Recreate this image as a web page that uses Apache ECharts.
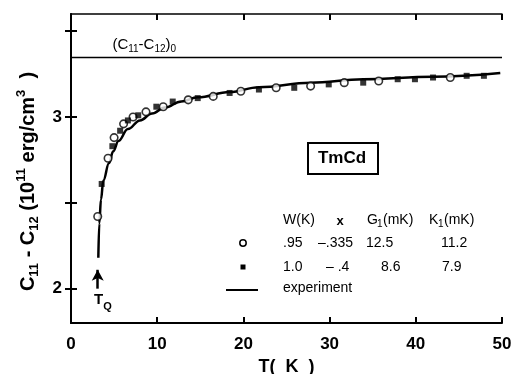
<!DOCTYPE html>
<html>
<head>
<meta charset="utf-8">
<script src="https://cdn.jsdelivr.net/npm/echarts@6/dist/echarts.min.js"></script>
<style>
html,body{margin:0;padding:0;background:#fff;}
#chart{width:515px;height:374px;}
</style>
</head>
<body>
<div id="chart"></div>
<script>
// W = .95 (open circles)
var tempW095 = [3.1, 4.3, 5.0, 6.1, 7.2, 8.7, 10.7, 13.6, 16.5, 19.7, 23.8, 27.8, 31.7, 35.7, 44.0];
var valW095  = [2.42, 2.76, 2.88, 2.96, 3.00, 3.03, 3.06, 3.10, 3.12, 3.15, 3.17, 3.18, 3.20, 3.21, 3.23];
// W = 1.0 (filled squares)
var tempW10 = [3.56, 4.8, 5.7, 6.6, 7.8, 9.9, 11.8, 14.7, 18.4, 21.8, 25.9, 29.9, 33.9, 37.9, 39.9, 42.0, 45.9, 47.9];
var valW10  = [2.61, 2.83, 2.92, 2.98, 3.01, 3.06, 3.09, 3.11, 3.14, 3.16, 3.17, 3.19, 3.20, 3.22, 3.22, 3.23, 3.24, 3.24];
// experiment curve
var tempExp = [3.17, 3.28, 3.48, 3.75, 4.4, 4.9, 5.5, 6.6, 8.0, 9.4, 10.9, 12.8, 14.7, 18.4, 21.8, 27.8, 33.9, 42.0, 49.8];
var valExp  = [2.18, 2.38, 2.52, 2.63, 2.73, 2.80, 2.86, 2.93, 2.98, 3.02, 3.055, 3.09, 3.115, 3.145, 3.174, 3.20, 3.22, 3.234, 3.256];

var c0 = 3.35;     // (C11-C12)0
var tQ = 3.1;      // T_Q arrow position
var yTicks = [2, 2.5, 3, 3.5];
var yLabels = [2, 3];

function pairs(xs, ys) {
    var out = [];
    for (var i = 0; i < xs.length; i++) out.push([xs[i], ys[i]]);
    return out;
}

var chart = echarts.init(document.getElementById('chart'));

var axisLine = {lineStyle: {color: '#000', width: 2}};
var tick = {inside: true, length: 6, lineStyle: {color: '#000', width: 2}};
var labelFont = {color: '#000', fontFamily: 'Liberation Sans', fontWeight: 'bold', fontSize: 17};
var tableFont = 'Liberation Sans';

var option = {
    backgroundColor: '#fff',
    animation: false,
    grid: {left: 71, right: 13, top: 14, bottom: 51, outerBoundsMode: 'none'},
    xAxis: [
        {
            type: 'value', position: 'bottom', min: 0, max: 50, interval: 10,
            axisLine: axisLine, axisTick: tick, splitLine: {show: false},
            axisLabel: Object.assign({margin: 13}, labelFont),
            name: 'T(  K  )', nameLocation: 'middle', nameGap: 35,
            nameTextStyle: {color: '#000', fontFamily: 'Liberation Sans', fontWeight: 'bold', fontSize: 18}
        },
        {
            type: 'value', position: 'top', min: 0, max: 50, interval: 10,
            axisLine: {lineStyle: {color: '#000', width: 1.5}}, axisTick: tick,
            axisLabel: {show: false}, splitLine: {show: false}
        }
    ],
    yAxis: [
        {
            type: 'value', position: 'left', min: 1.8, max: 3.6,
            axisLine: axisLine,
            axisTick: Object.assign({customValues: yTicks}, tick),
            axisLabel: Object.assign({customValues: yLabels, margin: 9}, labelFont),
            splitLine: {show: false},
            name: '{a|C}{s|11}{a| - C}{s|12}{a| (10}{u|11}{a| erg/cm}{u|3}{a|  )}',
            nameLocation: 'middle', nameGap: 30, nameRotate: 90,
            nameTextStyle: {
                padding: [0, 0, 0, -26],
                rich: {
                    a: {fontFamily: 'Liberation Sans', fontWeight: 'bold', fontSize: 20, lineHeight: 26, color: '#000'},
                    s: {fontFamily: 'Liberation Sans', fontWeight: 'bold', fontSize: 13, lineHeight: 13, verticalAlign: 'bottom', color: '#000'},
                    u: {fontFamily: 'Liberation Sans', fontWeight: 'bold', fontSize: 13, lineHeight: 13, verticalAlign: 'top', color: '#000'}
                }
            }
        },
        {
            type: 'value', position: 'right', min: 1.8, max: 3.6,
            axisLine: {lineStyle: {color: '#000', width: 1.5}},
            axisTick: Object.assign({customValues: yTicks}, tick),
            axisLabel: {show: false}, splitLine: {show: false}
        }
    ],
    series: [
        {
            name: 'experiment',
            type: 'line',
            data: pairs(tempExp, valExp),
            smooth: 0.4,
            smoothMonotone: 'x',
            showSymbol: false,
            lineStyle: {color: '#000', width: 2.5},
            z: 2,
            markLine: {
                silent: true,
                symbol: ['none', 'none'],
                data: [
                    [
                        {coord: [0, c0], lineStyle: {width: 1.3, color: '#000', type: 'solid'}},
                        {coord: [50, c0]}
                    ],
                    [
                        {coord: [tQ, 2.0], symbol: 'none', lineStyle: {width: 2.5, color: '#000', type: 'solid'}},
                        {coord: [tQ, 2.11], symbol: 'arrow', symbolSize: [9, 11]}
                    ]
                ],
                label: {show: false}
            },
            markPoint: {
                silent: true,
                symbol: 'circle', symbolSize: 0,
                data: [
                    {
                        coord: [tQ + 0.6, 1.935],
                        label: {
                            show: true, position: 'inside',
                            formatter: '{a|T}{s|Q}',
                            rich: {
                                a: {fontFamily: 'Liberation Sans', fontWeight: 'bold', fontSize: 15, lineHeight: 18, color: '#000'},
                                s: {fontFamily: 'Liberation Sans', fontWeight: 'bold', fontSize: 11, lineHeight: 11, verticalAlign: 'bottom', color: '#000', padding: [0, 0, -4, 0]}
                            }
                        }
                    },
                    {
                        coord: [8.5, 3.42],
                        label: {
                            show: true, position: 'inside',
                            formatter: '{a|(C}{s|11}{a|-C}{s|12}{a|)}{s|0}',
                            rich: {
                                a: {fontFamily: 'Liberation Sans', fontSize: 15, lineHeight: 18, color: '#000'},
                                s: {fontFamily: 'Liberation Sans', fontSize: 10, lineHeight: 10, verticalAlign: 'bottom', color: '#000'}
                            }
                        }
                    }
                ]
            }
        },
        {
            name: 'W .95',
            type: 'scatter',
            data: pairs(tempW095, valW095),
            symbol: 'circle',
            symbolSize: 7.5,
            itemStyle: {color: '#fff', borderColor: '#000', borderWidth: 1.6},
            z: 3
        },
        {
            name: 'W 1.0',
            type: 'scatter',
            data: pairs(tempW10, valW10),
            symbol: 'rect',
            symbolSize: 6,
            itemStyle: {color: '#000'},
            z: 3
        }
    ],
    graphic: [
        // TmCd box
        {type: 'rect', left: 307, top: 142, shape: {width: 70, height: 31},
         style: {fill: '#fff', stroke: '#000', lineWidth: 2}},
        {type: 'text', x: 342, y: 158,
         style: {text: 'TmCd', fill: '#000', font: 'bold 17px "Liberation Sans"', align: 'center', verticalAlign: 'middle'}},
        // parameter table
        {type: 'text', x: 283, y: 220, style: {text: 'W(K)', fill: '#000', font: '14px ' + tableFont, verticalAlign: 'middle'}},
        {type: 'text', x: 340, y: 221, style: {text: 'x', fill: '#000', font: 'bold 13px ' + tableFont, align: 'center', verticalAlign: 'middle'}},
        {type: 'text', x: 367, y: 220, style: {text: 'G', fill: '#000', font: '14px ' + tableFont, verticalAlign: 'middle'}},
        {type: 'text', x: 377, y: 224, style: {text: '1', fill: '#000', font: '10px ' + tableFont, verticalAlign: 'middle'}},
        {type: 'text', x: 383, y: 220, style: {text: '(mK)', fill: '#000', font: '14px ' + tableFont, verticalAlign: 'middle'}},
        {type: 'text', x: 429, y: 220, style: {text: 'K', fill: '#000', font: '14px ' + tableFont, verticalAlign: 'middle'}},
        {type: 'text', x: 438, y: 224, style: {text: '1', fill: '#000', font: '10px ' + tableFont, verticalAlign: 'middle'}},
        {type: 'text', x: 444, y: 220, style: {text: '(mK)', fill: '#000', font: '14px ' + tableFont, verticalAlign: 'middle'}},

        {type: 'circle', shape: {cx: 243, cy: 243, r: 3.2}, style: {fill: '#fff', stroke: '#000', lineWidth: 1.5}},
        {type: 'text', x: 283, y: 243, style: {text: '.95', fill: '#000', font: '14px ' + tableFont, verticalAlign: 'middle'}},
        {type: 'text', x: 318, y: 243, style: {text: '\u2013.335', fill: '#000', font: '14px ' + tableFont, verticalAlign: 'middle'}},
        {type: 'text', x: 366, y: 243, style: {text: '12.5', fill: '#000', font: '14px ' + tableFont, verticalAlign: 'middle'}},
        {type: 'text', x: 441, y: 243, style: {text: '11.2', fill: '#000', font: '14px ' + tableFont, verticalAlign: 'middle'}},

        {type: 'rect', shape: {x: 240.5, y: 264.5, width: 5, height: 5}, style: {fill: '#000'}},
        {type: 'text', x: 283, y: 267, style: {text: '1.0', fill: '#000', font: '14px ' + tableFont, verticalAlign: 'middle'}},
        {type: 'text', x: 326, y: 267, style: {text: '\u2013 .4', fill: '#000', font: '14px ' + tableFont, verticalAlign: 'middle'}},
        {type: 'text', x: 381, y: 267, style: {text: '8.6', fill: '#000', font: '14px ' + tableFont, verticalAlign: 'middle'}},
        {type: 'text', x: 442, y: 267, style: {text: '7.9', fill: '#000', font: '14px ' + tableFont, verticalAlign: 'middle'}},

        {type: 'line', shape: {x1: 226, y1: 290, x2: 258, y2: 290}, style: {stroke: '#000', lineWidth: 2}},
        {type: 'text', x: 283, y: 288, style: {text: 'experiment', fill: '#000', font: '14px ' + tableFont, verticalAlign: 'middle'}}
    ]
};

chart.setOption(option);
</script>
</body>
</html>
